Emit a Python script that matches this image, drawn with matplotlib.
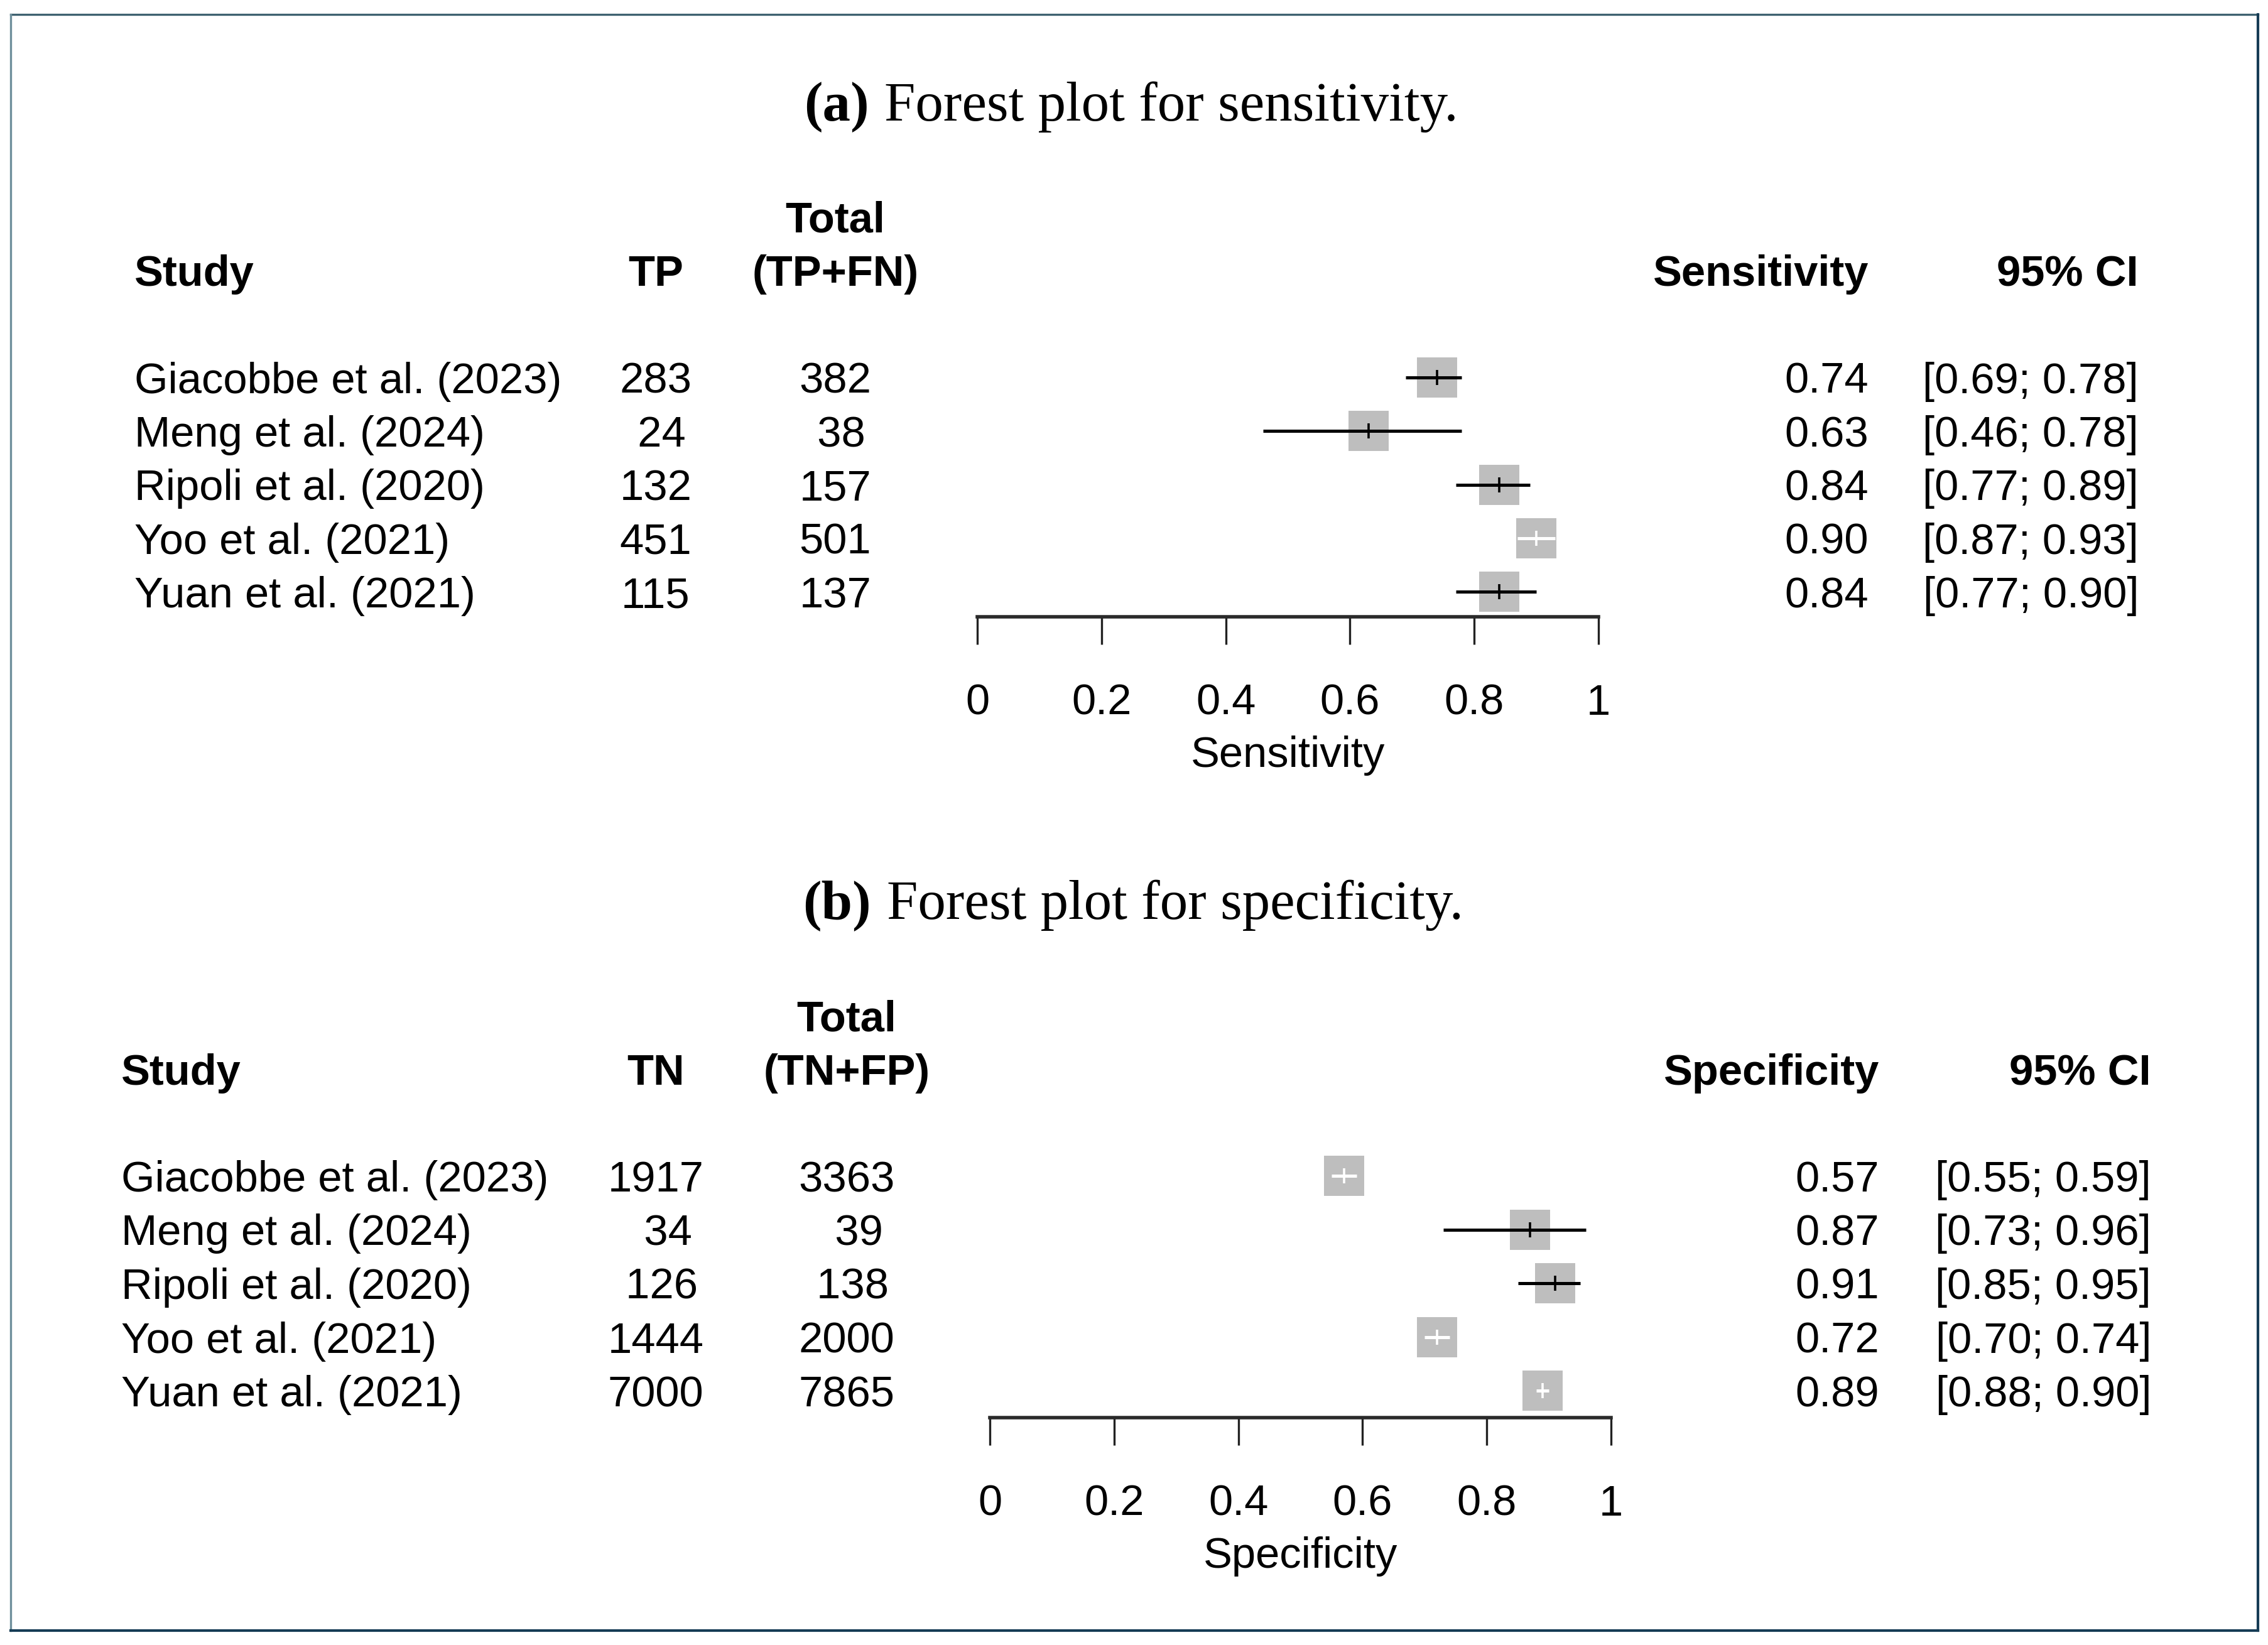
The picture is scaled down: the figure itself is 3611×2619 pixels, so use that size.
import matplotlib
matplotlib.use("Agg")
import matplotlib.pyplot as plt
from matplotlib.lines import Line2D

# data
studies = ["Giacobbe et al. (2023)", "Meng et al. (2024)", "Ripoli et al. (2020)",
           "Yoo et al. (2021)", "Yuan et al. (2021)"]
tp = [283, 24, 132, 451, 115]
tp_fn = [382, 38, 157, 501, 137]
sens = [0.74, 0.63, 0.84, 0.90, 0.84]
sens_lo = [0.69, 0.46, 0.77, 0.87, 0.77]
sens_hi = [0.78, 0.78, 0.89, 0.93, 0.90]
tn = [1917, 34, 126, 1444, 7000]
tn_fp = [3363, 39, 138, 2000, 7865]
spec = [0.57, 0.87, 0.91, 0.72, 0.89]
spec_lo = [0.55, 0.73, 0.85, 0.70, 0.88]
spec_hi = [0.59, 0.96, 0.95, 0.74, 0.90]
xticks = [0, 0.2, 0.4, 0.6, 0.8, 1]
xtick_labels = ["0", "0.2", "0.4", "0.6", "0.8", "1"]

W, H = 3611, 2619
FS = 49.5        # table text size (pt)
TFS = 64         # caption size (pt)
SQ = 64          # square side in pixels
SANS = "Liberation Sans"
SERIF = "Liberation Serif"

plt.rcParams['font.family'] = [SANS, 'DejaVu Sans']

fig = plt.figure(figsize=(W / 100, H / 100), dpi=100)
fig.patch.set_facecolor("white")


def fx(px):
    return px / W


def fy(py):
    return 1 - py / H


def txt(x, y, s, ha="left", bold=False):
    fig.text(fx(x), fy(y), s, ha=ha, va="baseline", fontsize=FS,
             fontweight="bold" if bold else "normal")


def caption(cx, y, tag, rest):
    t1 = fig.text(0, fy(y), tag, family=SERIF, fontsize=TFS, fontweight="bold",
                  ha="left", va="baseline")
    t2 = fig.text(0, fy(y), rest, family=SERIF, fontsize=TFS,
                  ha="left", va="baseline")
    r = fig.canvas.get_renderer()
    w1 = t1.get_window_extent(r).width
    w2 = t2.get_window_extent(r).width
    gap = 25
    x0 = cx - (w1 + gap + w2) / 2
    t1.set_x(fx(x0))
    t2.set_x(fx(x0 + w1 + gap))


def padded(vals):
    n = max(len(str(v)) for v in vals)
    return [str(v).rjust(n) for v in vals]


def panel(p, tag, title, ev, tot, ev_head, tot_head, est, lo, hi, est_head, xlab):
    caption(p["cx"], p["title_y"], tag, title)

    # header
    txt(p["study_x"], p["head_y"], "Study", bold=True)
    txt(p["c1"], p["head_y"], ev_head, ha="center", bold=True)
    txt(p["c2"], p["head_y"] - 85, "Total", ha="center", bold=True)
    txt(p["c2"], p["head_y"], tot_head, ha="center", bold=True)
    txt(p["c3"], p["head_y"], est_head, ha="right", bold=True)
    txt(p["c4"], p["head_y"], "95% CI", ha="right", bold=True)

    ev_s = padded(ev)
    tot_s = padded(tot)
    for i, name in enumerate(studies):
        yb = p["row0"] + p["step"] * i + 25
        txt(p["study_x"], yb, name)
        txt(p["c1"], yb, ev_s[i], ha="center")
        txt(p["c2"], yb, tot_s[i], ha="center")
        txt(p["c3"], yb, f"{est[i]:.2f}", ha="right")
        txt(p["c4"], yb, f"[{lo[i]:.2f}; {hi[i]:.2f}]", ha="right")

    # forest axes
    top_y = p["row0"] - 70
    ax = fig.add_axes([fx(p["x0"]), fy(p["axis_y"]),
                       fx(p["x1"]) - fx(p["x0"]), (p["axis_y"] - top_y) / H])
    ax.set_xlim(0, 1)
    ax.set_ylim((p["axis_y"] - p["row0"]) / p["step"], (top_y - p["row0"]) / p["step"])
    for s in ["top", "left", "right"]:
        ax.spines[s].set_visible(False)
    ax.spines["bottom"].set_linewidth(4.0)
    ax.spines["bottom"].set_color("#2a2a2a")
    ax.set_yticks([])
    ax.set_xticks(xticks, xtick_labels)
    ax.tick_params(axis="x", direction="out", length=32, width=2.4,
                   color="#222222", pad=44, labelsize=FS)
    ax.set_xlabel(xlab, fontsize=FS, labelpad=14)
    ax.patch.set_alpha(0)

    rows = list(range(len(studies)))
    ax.scatter(est, rows, marker="s", s=(SQ * 0.72) ** 2, color="#bebebe",
               linewidths=0, zorder=2, clip_on=False)
    half = (SQ / 2) / (p["x1"] - p["x0"])
    for i in rows:
        inside = lo[i] >= est[i] - half and hi[i] <= est[i] + half
        c = "white" if inside else "black"
        ax.plot([lo[i], hi[i]], [i, i], color=c, lw=3.6, solid_capstyle="butt",
                zorder=3, clip_on=False)
        ax.plot([est[i]], [i], marker="|", ms=17, mew=2.6, color=c,
                zorder=4, clip_on=False)


pa = dict(cx=1801, title_y=192, head_y=455, study_x=214, c1=1044, c2=1330,
          c3=2975, c4=3405, row0=601, step=85.25, x0=1556, x1=2545, axis_y=982)
pb = dict(cx=1804, title_y=1463, head_y=1727, study_x=193, c1=1044, c2=1348,
          c3=2992, c4=3425, row0=1872, step=85.5, x0=1576, x1=2565, axis_y=2257)

panel(pa, "(a)", "Forest plot for sensitivity.", tp, tp_fn, "TP", "(TP+FN)",
      sens, sens_lo, sens_hi, "Sensitivity", "Sensitivity")
panel(pb, "(b)", "Forest plot for specificity.", tn, tn_fp, "TN", "(TN+FP)",
      spec, spec_lo, spec_hi, "Specificity", "Specificity")

# outer frame
L, T, R, B = 17, 23, 3595, 2596
fig.add_artist(Line2D([fx(L), fx(R)], [fy(T), fy(T)], color="#3e6170", lw=2.4))
fig.add_artist(Line2D([fx(L), fx(L)], [fy(T), fy(B)], color="#6f8f9c", lw=2.4))
fig.add_artist(Line2D([fx(R), fx(R)], [fy(T), fy(B)], color="#163c55", lw=3.0))
fig.add_artist(Line2D([fx(L), fx(R)], [fy(B), fy(B)], color="#163c55", lw=3.0))

fig.savefig("out.png", dpi=100, facecolor="white")
